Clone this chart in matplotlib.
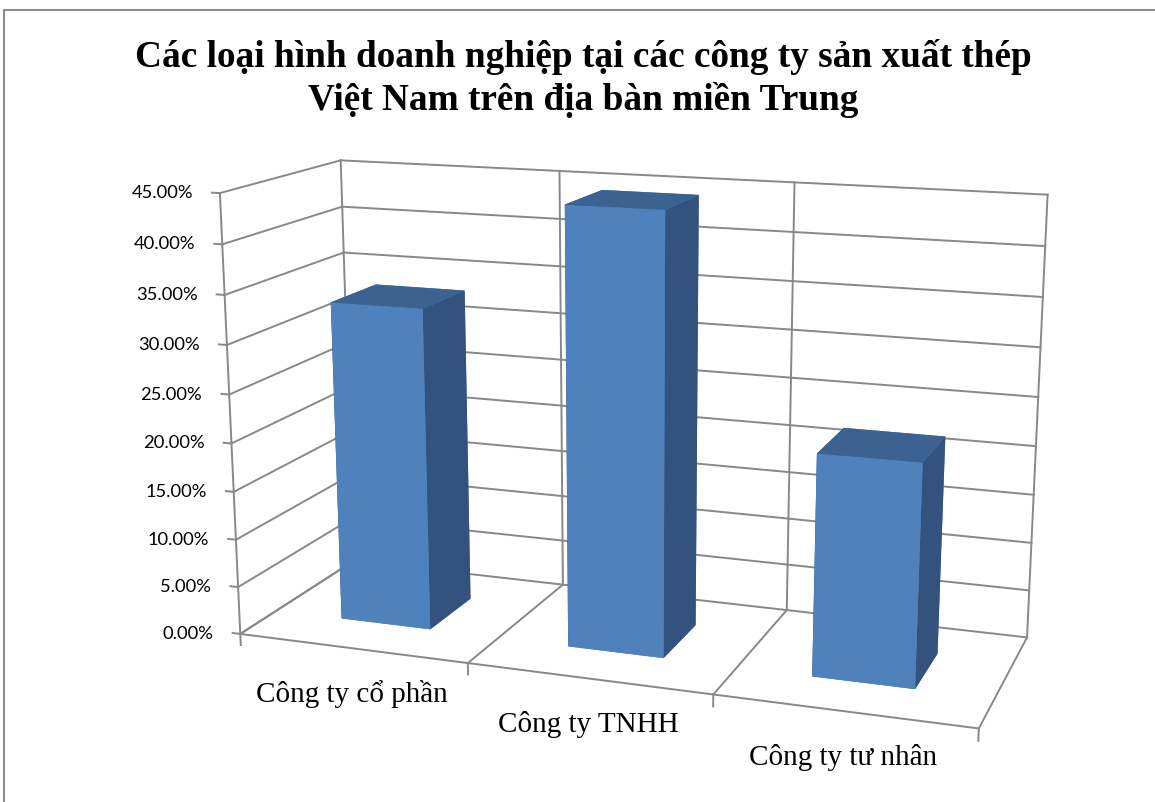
import matplotlib
matplotlib.use("Agg")
import matplotlib.pyplot as plt
from matplotlib.patches import Rectangle
from mpl_toolkits.mplot3d import proj3d

# share of each type of company (%)
categories = ["Công ty cổ phần", "Công ty TNHH", "Công ty tư nhân"]
values = [33.33, 44.44, 22.22]
z_ticks = [0, 5, 10, 15, 20, 25, 30, 35, 40, 45]
z_labels = ["%.2f%%" % t for t in z_ticks]
title = "Các loại hình doanh nghiệp tại các công ty sản xuất thép\nViệt Nam trên địa bàn miền Trung"

grid_color = "#888888"
face_front = "#4F81BD"
face_top = "#3C6291"
face_side = "#33527E"

W, H = 1155, 802
fig = plt.figure(figsize=(W / 100, H / 100), dpi=100)
fig.patches.append(Rectangle((4 / W, -0.1), 1.2, (H - 10) / H + 0.1,
                             transform=fig.transFigure, fill=False,
                             edgecolor="#8c8c8c", lw=1.5))
fig.text(0.505, 0.902, title, ha="center", va="center", fontsize=26.8,
         fontweight="bold", family="Liberation Serif", linespacing=1.26)

side = 0.84
cx, cy = 0.5365, 0.4595
ax = fig.add_axes([cx - side / 2, cy - side / 2 * W / H, side, side * W / H],
                  projection="3d", proj_type="persp", focal_length=0.42)
ax.set_axis_off()

n = len(categories)
x0, x1 = -0.5, n - 0.5
ax.set_xlim(x0, x1)
ax.set_ylim(0, 1)
ax.set_zlim(0, 45)
ax.set_box_aspect((1.399, 0.475, 0.834), zoom=0.927)
ax.view_init(elev=14.2, azim=-70.5)

lw = 1.4
# left wall and back wall
for z in z_ticks:
    ax.plot([x0, x0], [0, 1], [z, z], color=grid_color, lw=lw)
    ax.plot([x0, x1], [1, 1], [z, z], color=grid_color, lw=lw)
    ax.plot([x0 - 0.035, x0], [0, 0], [z, z], color=grid_color, lw=lw)
ax.plot([x0, x0], [0, 0], [0, 45], color=grid_color, lw=lw)

# category boundaries on the floor and the back wall
bounds = [x0 + i for i in range(n + 1)]
for xb in bounds:
    ax.plot([xb, xb], [1, 1], [0, 45], color=grid_color, lw=lw)
    ax.plot([xb, xb], [0, 1], [0, 0], color=grid_color, lw=lw)
    ax.plot([xb, xb], [0, 0], [0, -1.2], color=grid_color, lw=lw)
ax.plot([x0, x1], [0, 0], [0, 0], color=grid_color, lw=lw)

# bars
w, d = 0.4, 0.4
xs = [i - w / 2 for i in range(n)]
ys = [0.5 - d / 2] * n
colors = []
for _ in range(n):
    # -z, +z, -y, +y, -x, +x
    colors += [face_front, face_top, face_front, face_front, face_side, face_side]
ax.bar3d(xs, ys, [0] * n, [w] * n, [d] * n, values, color=colors, shade=False)

# labels go in as plain 2D text at the projected points
fig.canvas.draw()


def to_pixels(x, y, z):
    xp, yp, _ = proj3d.proj_transform(x, y, z, ax.M)
    return ax.transData.transform((xp, yp))


for z, lab in zip(z_ticks, z_labels):
    px, py = to_pixels(x0, 0, z)
    fig.text((px - 27) / W, py / H, lab, ha="right", va="center",
             fontsize=13.2, family="Lato")

for i, name in enumerate(categories):
    px, py = to_pixels(i, 0, 0)
    fig.text(px / W, (py - 46) / H, name, ha="center", va="center",
             fontsize=21, family="Liberation Serif")

fig.savefig("out.png", dpi=100)
